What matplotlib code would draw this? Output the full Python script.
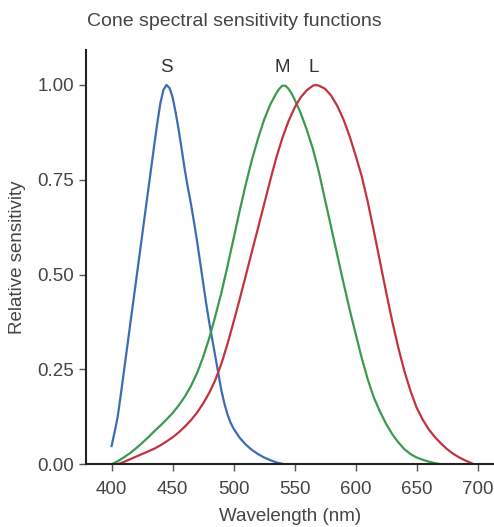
import matplotlib
matplotlib.use("Agg")
import matplotlib.pyplot as plt

plt.rcParams['font.family'] = ['Liberation Sans', 'DejaVu Sans']

# S cone (blue)
s_wl = [400, 402.5, 405, 407.5, 410, 412.5, 415, 417.5, 420, 422.5, 425, 427.5,
        430, 432.5, 435, 437.5, 440, 442.5, 445, 447.5, 450, 452.5, 455, 457.5,
        460, 462.5, 465, 467.5, 470, 472.5, 475, 477.5, 480, 482.5, 485, 487.5,
        490, 492.5, 495, 497.5, 500, 505, 510, 515, 520, 525, 530, 535, 542]
s_val = [0.048, 0.085, 0.125, 0.182, 0.242, 0.302, 0.362, 0.422, 0.482, 0.542,
         0.602, 0.662, 0.722, 0.782, 0.842, 0.900, 0.952, 0.987, 1.000, 0.992,
         0.968, 0.928, 0.882, 0.830, 0.777, 0.730, 0.688, 0.640, 0.590, 0.535,
         0.480, 0.425, 0.375, 0.330, 0.285, 0.240, 0.195, 0.160, 0.132, 0.110,
         0.094, 0.070, 0.052, 0.038, 0.027, 0.018, 0.011, 0.005, 0.0]

# M cone (green)
m_wl = [400, 405, 410, 415, 420, 425, 430, 435, 440, 445, 450, 455, 460, 465,
        470, 475, 480, 485, 490, 495, 500, 505, 510, 515, 520, 525, 530, 535,
        537.5, 540, 542.5, 545, 547.5, 550, 555, 560, 565, 570, 575, 580, 585,
        590, 595, 600, 605, 610, 615, 620, 625, 630, 635, 640, 645, 650, 655,
        660, 665, 670]
m_val = [0.0, 0.008, 0.018, 0.029, 0.042, 0.056, 0.071, 0.087, 0.102, 0.118,
         0.135, 0.155, 0.178, 0.206, 0.240, 0.282, 0.332, 0.390, 0.452, 0.522,
         0.595, 0.668, 0.738, 0.802, 0.858, 0.908, 0.948, 0.978, 0.990, 0.998,
         0.998, 0.990, 0.978, 0.962, 0.926, 0.882, 0.832, 0.770, 0.697, 0.625,
         0.552, 0.480, 0.410, 0.345, 0.281, 0.224, 0.176, 0.139, 0.107, 0.080,
         0.058, 0.040, 0.027, 0.018, 0.012, 0.007, 0.003, 0.0]

# L cone (red)
l_wl = [405, 410, 415, 420, 425, 430, 435, 440, 445, 450, 455, 460, 465, 470,
        475, 480, 485, 490, 495, 500, 505, 510, 515, 520, 525, 530, 535, 540,
        545, 550, 555, 560, 565, 567.5, 570, 575, 580, 585, 590, 595, 600, 605,
        610, 615, 620, 625, 630, 635, 640, 645, 650, 655, 660, 665, 670, 675,
        680, 685, 690, 697]
l_val = [0.0, 0.006, 0.013, 0.020, 0.027, 0.034, 0.041, 0.050, 0.060, 0.071,
         0.084, 0.099, 0.116, 0.136, 0.160, 0.188, 0.222, 0.265, 0.317, 0.375,
         0.435, 0.497, 0.560, 0.622, 0.685, 0.748, 0.808, 0.860, 0.904, 0.940,
         0.967, 0.986, 0.998, 1.000, 0.998, 0.990, 0.972, 0.945, 0.910, 0.866,
         0.815, 0.760, 0.692, 0.615, 0.535, 0.455, 0.378, 0.308, 0.246, 0.194,
         0.150, 0.118, 0.092, 0.072, 0.055, 0.040, 0.028, 0.018, 0.010, 0.0]

labels = ["S", "M", "L"]
label_wl = [445, 540, 566]

x_ticks = [400, 450, 500, 550, 600, 650, 700]
y_ticks = [0.00, 0.25, 0.50, 0.75, 1.00]

fig = plt.figure(figsize=(4.94, 5.27), dpi=100)
ax = fig.add_axes([0.174, 0.119, 0.826, 0.786])

ax.plot(s_wl, s_val, color='#3d6cb5', lw=1.6, solid_joinstyle='round')
ax.plot(m_wl, m_val, color='#3b9a4c', lw=1.6, solid_joinstyle='round')
ax.plot(l_wl, l_val, color='#c2323f', lw=1.6, solid_joinstyle='round')

for lab, wl in zip(labels, label_wl):
    ax.text(wl, 1.047, lab, ha='center', va='center', fontsize=13.5, color='#333333')

ax.set_xlim(379, 713.5)
ax.set_ylim(0, 1.092)
ax.set_xticks(x_ticks)
ax.set_yticks(y_ticks)
ax.set_yticklabels([f"{v:.2f}" for v in y_ticks])
ax.tick_params(axis='both', colors='#555555', labelcolor='#444444', labelsize=13.5,
               length=5, width=1)
ax.tick_params(axis='x', pad=7)

for side in ['top', 'right']:
    ax.spines[side].set_visible(False)
for side in ['left', 'bottom']:
    ax.spines[side].set_color('#222222')
    ax.spines[side].set_linewidth(1.5)

ax.set_xlabel("Wavelength (nm)", fontsize=13.5, color='#444444', labelpad=7)
ax.set_ylabel("Relative sensitivity", fontsize=13.5, color='#444444', labelpad=8)

fig.text(0.176, 0.960, "Cone spectral sensitivity functions", fontsize=14,
         color='#444444', ha='left', va='center')

fig.savefig("out.png", dpi=100)
